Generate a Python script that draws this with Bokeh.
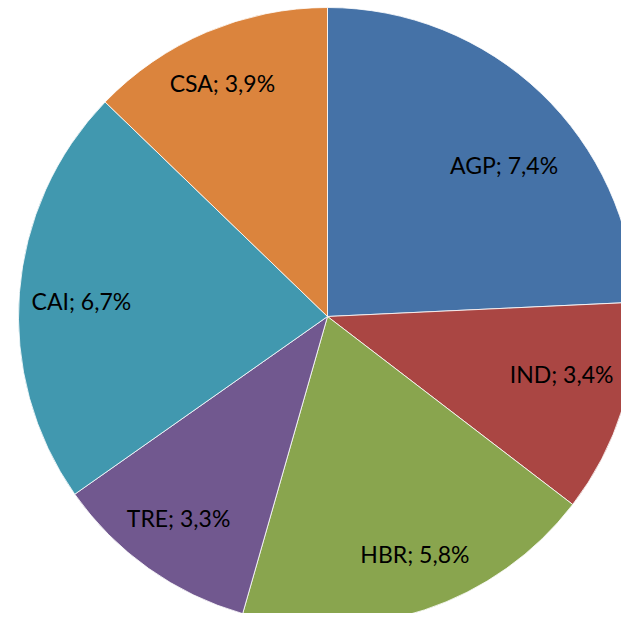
import math
from bokeh.plotting import figure
from bokeh.models import Range1d, ColumnDataSource
from bokeh.core.properties import value
from bokeh.embed import file_html
from bokeh.resources import INLINE

categories = ["AGP", "IND", "HBR", "TRE", "CAI", "CSA"]
values = [7.4, 3.4, 5.8, 3.3, 6.7, 3.9]
colors = ["#4572A7", "#AA4643", "#89A54E", "#71588F", "#4198AF", "#DB843D"]

# label placement style (best-fit style nudges): radial fraction, angle offset (deg)
label_frac = [0.753, 0.780, 0.819, 0.812, 0.798, 0.829]
label_dang = [5.7, -3.6, -1.9, 1.0, -0.9, -1.2]

W, H = 621, 613
cx, cy = 327, H - 316
R = 309

total = sum(values)
starts, ends, lx, ly, labels = [], [], [], [], []
cum = 0.0
for i, (c, v) in enumerate(zip(categories, values)):
    a0 = cum / total * 2 * math.pi
    cum += v
    a1 = cum / total * 2 * math.pi
    starts.append(math.pi / 2 - a0)
    ends.append(math.pi / 2 - a1)
    mid = (a0 + a1) / 2 + math.radians(label_dang[i])
    lx.append(cx + label_frac[i] * R * math.sin(mid))
    ly.append(cy + label_frac[i] * R * math.cos(mid))
    labels.append(f"{c}; {v:.1f}%".replace(".", ","))

src = ColumnDataSource(dict(start=starts, end=ends, color=colors,
                            lx=lx, ly=ly, label=labels))

p = figure(width=W, height=H, output_backend="svg", toolbar_location=None,
           x_range=Range1d(0, W), y_range=Range1d(0, H), min_border=0)
p.axis.visible = False
p.grid.visible = False
p.outline_line_color = None
p.background_fill_color = "white"
p.border_fill_color = "white"

p.wedge(x=cx, y=cy, radius=R, start_angle="start", end_angle="end",
        direction="clock", fill_color="color", line_color="white",
        line_width=1, line_alpha=0.8, source=src)
p.text(x="lx", y="ly", text="label", source=src, text_align="center",
       text_baseline="middle", text_font=value("Lato"),
       text_font_size="23px", text_color="black")

open("out.html", "w").write(file_html(p, INLINE))
